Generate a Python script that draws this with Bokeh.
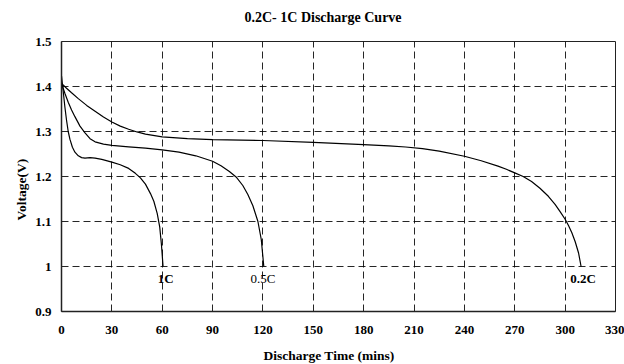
import math
from bokeh.plotting import figure
from bokeh.models import Range1d, FixedTicker, Label, Title
from bokeh.embed import file_html
from bokeh.resources import INLINE

# ---- data ----
t_1c = [0, 1, 2, 3, 4, 5, 6.5, 8, 10, 12, 14, 17, 20, 24, 30, 35, 40, 44, 47, 50, 53, 55, 57, 58.5, 59.5, 60.5]
v_1c = [1.424, 1.39, 1.355, 1.325, 1.30, 1.283, 1.265, 1.254, 1.246, 1.242, 1.241, 1.242, 1.241, 1.238, 1.232,
        1.226, 1.218, 1.207, 1.197, 1.183, 1.162, 1.145, 1.118, 1.088, 1.05, 1.0]

t_05c = [0, 2, 4, 6, 8, 11, 14, 17, 20, 25, 30, 40, 50, 60, 70, 80, 90, 95, 100, 104, 108, 111, 114, 117, 119, 120.5]
v_05c = [1.407, 1.385, 1.365, 1.348, 1.333, 1.312, 1.297, 1.284, 1.277, 1.272, 1.269, 1.266, 1.263, 1.259, 1.254,
         1.246, 1.234, 1.224, 1.211, 1.199, 1.18, 1.16, 1.135, 1.1, 1.06, 1.0]

t_02c = [0, 3, 6, 10, 15, 20, 25, 30, 35, 40, 45, 50, 60, 75, 90, 120, 150, 180, 195, 205, 215, 225, 240, 250, 260,
         265, 270, 275, 280, 285, 290, 294, 297, 300, 302, 304, 306, 308, 309.5]
v_02c = [1.407, 1.396, 1.386, 1.373, 1.358, 1.345, 1.332, 1.321, 1.312, 1.305, 1.299, 1.294, 1.288, 1.284, 1.282,
         1.280, 1.276, 1.271, 1.268, 1.2655, 1.262, 1.2565, 1.245, 1.235, 1.223, 1.216, 1.208, 1.200, 1.189, 1.174,
         1.156, 1.138, 1.122, 1.105, 1.091, 1.075, 1.055, 1.03, 1.0]

x_ticks = [0, 30, 60, 90, 120, 150, 180, 210, 240, 270, 300, 330]
y_ticks = [0.9, 1.0, 1.1, 1.2, 1.3, 1.4, 1.5]
y_tick_labels = ["0.9", "1", "1.1", "1.2", "1.3", "1.4", "1.5"]

curve_names = ["1C", "0.5C", "0.2C"]
title_text = "0.2C- 1C Discharge Curve"
x_label_text = "Discharge Time (mins)"
y_label_text = "Voltage(V)"

FONT = "Liberation Serif"

p = figure(width=624, height=364, output_backend="svg", toolbar_location=None,
           x_range=Range1d(0, 330), y_range=Range1d(0.9, 1.5),
           min_border_left=61, min_border_right=9, min_border_top=41, min_border_bottom=53)
p.title.visible = False

# title (a blank spacer title keeps it off the frame)
p.add_layout(Title(text=" ", text_font_size="13px", standoff=0), "above")
p.add_layout(Title(text=title_text, align="left", offset=183, vertical_align="bottom", standoff=0,
                   text_font=FONT, text_font_style="bold", text_font_size="14px", text_color="black"), "above")

for ax in (p.xaxis[0], p.yaxis[0]):
    ax.major_tick_in = 0
    ax.major_tick_out = 0
    ax.minor_tick_in = 0
    ax.minor_tick_out = 0
    ax.axis_line_color = "#222222"
    ax.axis_line_width = 1.5
    ax.major_label_text_font = FONT
    ax.major_label_text_font_style = "bold"
    ax.major_label_text_font_size = "13px"
    ax.major_label_text_color = "black"

p.xaxis.ticker = FixedTicker(ticks=x_ticks)
p.yaxis.ticker = FixedTicker(ticks=y_ticks)
p.yaxis.major_label_overrides = {v: s for v, s in zip(y_ticks, y_tick_labels)}
p.xaxis.major_label_standoff = 14
p.yaxis.major_label_standoff = 10

p.add_layout(Title(text=" ", text_font_size="8px", standoff=0), "below")
p.add_layout(Title(text=x_label_text, align="left", offset=202, vertical_align="top", standoff=0,
                   text_font=FONT, text_font_style="bold", text_font_size="13.5px", text_color="black"), "below")
p.add_layout(Title(text=y_label_text, align="left", offset=91, vertical_align="bottom", standoff=8,
                   text_font=FONT, text_font_style="bold", text_font_size="13.5px", text_color="black"), "left")

for g in (p.xgrid[0], p.ygrid[0]):
    g.grid_line_color = "black"
    g.grid_line_dash = "7 4"
    g.grid_line_width = 1
    g.grid_line_alpha = 0.85

p.outline_line_color = "#222222"
p.outline_line_width = 1
p.background_fill_color = "white"
p.border_fill_color = "white"

p.line(t_1c, v_1c, line_color="black", line_width=1.2)
p.line(t_05c, v_05c, line_color="black", line_width=1.2)
p.line(t_02c, v_02c, line_color="black", line_width=1.2)

# curve end labels
label_specs = [
    (t_1c[-1] + 1.5, v_1c[-1], curve_names[0], "center", "bold"),
    (t_05c[-1] - 0.5, v_05c[-1], curve_names[1], "center", "normal"),
    (t_02c[-1] - 6.5, v_02c[-1], curve_names[2], "left", "bold"),
]
for tx, vy, txt, align, style in label_specs:
    p.add_layout(Label(x=tx, y=vy - 0.027, text=txt, text_align=align, text_baseline="middle",
                       text_font=FONT, text_font_style=style, text_font_size="13px", text_color="black"))

open("out.html", "w").write(file_html(p, INLINE))
